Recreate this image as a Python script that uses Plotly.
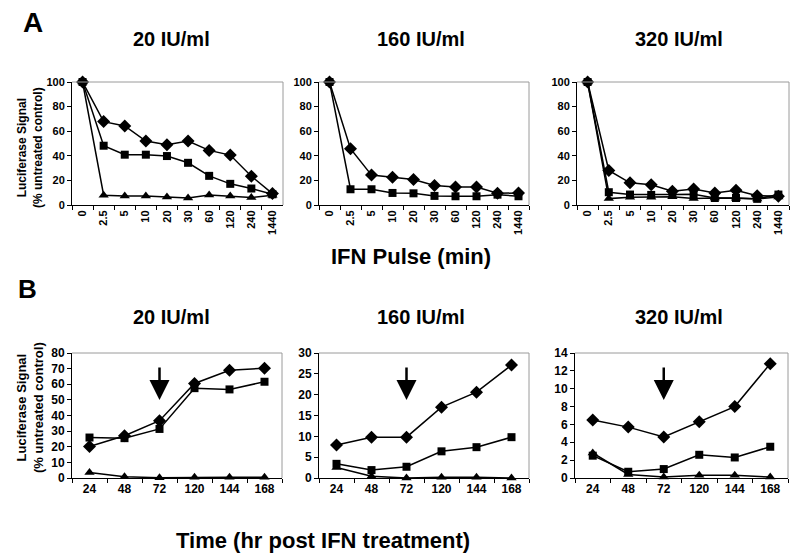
import plotly.graph_objects as go

# page offset: the browser places the figure 8px from the top-left corner
OFF = 8
W, H = 800 - OFF, 558 - OFF

# ---------------- data ----------------
pulse_cats = ["0", "2.5", "5", "10", "20", "30", "60", "120", "240", "1440"]
a20_diamond = [100, 67.8, 64.3, 52, 49, 52, 44.4, 40.6, 23.4, 9.3]
a20_square = [100, 48.2, 40.9, 40.9, 39.8, 34.3, 23.7, 17.2, 13.4, 8.7]
a20_triangle = [100, 8, 7.4, 7.4, 6.5, 5.7, 8.2, 7.4, 6, 8]
a160_diamond = [100, 45.8, 24.3, 22.6, 20.7, 15.8, 14.7, 14.7, 9.5, 9.8]
a160_square = [100, 12.8, 12.8, 9.8, 9.5, 7.4, 7.1, 7.1, 8.4, 7.1]
a320_diamond = [100, 28.1, 18, 16.4, 11.2, 13.1, 9.8, 12, 7.6, 7.1]
a320_square = [100, 10.4, 8.5, 8.2, 8.5, 8.8, 5.7, 5.7, 5, 8.5]
a320_triangle = [100, 5.2, 6.3, 6.3, 6.8, 5.2, 5.7, 5.5, 4.9, 6.6]

time_cats = ["24", "48", "72", "120", "144", "168"]
b20_diamond = [20.2, 27, 36.7, 60.5, 69, 70.3]
b20_square = [25.9, 25.5, 31.4, 57.5, 56.7, 61.6]
b20_triangle = [3.5, 0.8, 0.2, 0.5, 0.5, 0.5]
b160_diamond = [7.9, 9.8, 9.8, 17, 20.6, 27.1]
b160_square = [3.4, 1.9, 2.7, 6.4, 7.4, 9.8]
b160_triangle = [2.5, 0.4, 0, 0.2, 0.2, 0]
b320_diamond = [6.5, 5.7, 4.6, 6.3, 8, 12.8]
b320_square = [2.5, 0.7, 1.0, 2.6, 2.3, 3.5]
b320_triangle = [2.8, 0.4, 0.1, 0.3, 0.3, 0.1]

dose_titles = ["20 IU/ml", "160 IU/ml", "320 IU/ml"]
arrow_cat = "72"

# ---------------- layout helpers ----------------
def px_x(p):
    return (p - OFF) / W

def px_y(p):
    return 1 - (p - OFF) / H

A_x = [(72, 283), (319, 529), (577, 789)]
A_y = (82, 205)
B_x = [(72, 282), (319, 529), (575, 788)]
B_y = (353, 478)

FONT = "Arial, Liberation Sans, Helvetica, sans-serif"
NARROW = "Liberation Sans Narrow, Arial Narrow, Arial, Liberation Sans"

fig = go.Figure()

marker_specs = {
    "diamond": dict(symbol="diamond", size=10),
    "square": dict(symbol="square", size=8),
    "triangle": dict(symbol="triangle-up", size=9),
}

def add_series(xcats, yvals, kind, ax_idx):
    sfx = "" if ax_idx == 1 else str(ax_idx)
    fig.add_trace(go.Scatter(
        x=xcats, y=yvals, mode="lines+markers",
        line=dict(color="black", width=1.5),
        marker=dict(color="black", **marker_specs[kind]),
        xaxis="x" + sfx, yaxis="y" + sfx, showlegend=False, cliponaxis=False))

panelA = [
    [(a20_diamond, "diamond"), (a20_square, "square"), (a20_triangle, "triangle")],
    [(a160_diamond, "diamond"), (a160_square, "square")],
    [(a320_triangle, "triangle"), (a320_square, "square"), (a320_diamond, "diamond")],
]
panelB = [
    [(b20_diamond, "diamond"), (b20_square, "square"), (b20_triangle, "triangle")],
    [(b160_diamond, "diamond"), (b160_square, "square"), (b160_triangle, "triangle")],
    [(b320_diamond, "diamond"), (b320_square, "square"), (b320_triangle, "triangle")],
]

for i, series in enumerate(panelA):
    for vals, kind in series:
        add_series(pulse_cats, vals, kind, i + 1)
for i, series in enumerate(panelB):
    for vals, kind in series:
        add_series(time_cats, vals, kind, i + 4)

layout = dict(
    width=W, height=H, margin=dict(l=0, r=0, t=0, b=0, autoexpand=False),
    paper_bgcolor="white", plot_bgcolor="white",
    font=dict(family=FONT, color="black"),
    showlegend=False,
)

def axis_common():
    return dict(showgrid=False, zeroline=False, showline=True, linecolor="black",
                linewidth=1, ticks="outside", ticklen=4, tickcolor="black",
                fixedrange=True, automargin=False)

B_ranges = [(80, 10), (30, 5), (14, 2)]
for i in range(3):
    n = i + 1
    sfx = "" if n == 1 else str(n)
    layout["xaxis" + sfx] = dict(
        axis_common(), domain=[px_x(A_x[i][0]), px_x(A_x[i][1])],
        anchor="y" + sfx, type="category", tickson="boundaries",
        tickangle=-90,
        tickfont=dict(size=11, family=NARROW, color="black", weight="bold"),
        range=[-0.5, 9.5])
    layout["yaxis" + sfx] = dict(
        axis_common(), domain=[px_y(A_y[1]), px_y(A_y[0])],
        anchor="x" + sfx, range=[0, 100], dtick=20,
        tickfont=dict(size=11, family=NARROW, color="black", weight="bold"))
for i in range(3):
    n = i + 4
    sfx = str(n)
    layout["xaxis" + sfx] = dict(
        axis_common(), domain=[px_x(B_x[i][0]), px_x(B_x[i][1])],
        anchor="y" + sfx, type="category", tickson="boundaries",
        tickfont=dict(size=12, color="black", weight="bold"), range=[-0.5, 5.5])
    layout["yaxis" + sfx] = dict(
        axis_common(), domain=[px_y(B_y[1]), px_y(B_y[0])],
        anchor="x" + sfx, range=[0, B_ranges[i][0]], dtick=B_ranges[i][1],
        tickfont=dict(size=12, color="black", weight="bold"))

shapes = []
for n in range(1, 7):
    sfx = "" if n == 1 else str(n)
    xr, yr = "x" + sfx + " domain", "y" + sfx + " domain"
    shapes.append(dict(type="line", xref=xr, yref=yr, x0=0, x1=1, y0=1, y1=1,
                       line=dict(color="#9a9a9a", width=1)))
    shapes.append(dict(type="line", xref=xr, yref=yr, x0=1, x1=1, y0=0, y1=1,
                       line=dict(color="#9a9a9a", width=1)))
layout["shapes"] = shapes

ann = []
bold = lambda s: "<b>" + s + "</b>"

def label(text, cx, cy, size, family=FONT, angle=0):
    ann.append(dict(text=bold(text), x=px_x(cx), y=px_y(cy), xref="paper", yref="paper",
                    xanchor="center", yanchor="middle", showarrow=False, textangle=angle,
                    font=dict(size=size, family=family, color="black")))

label("A", 33, 23, 28)
label("B", 27, 289, 26)
for cx, t in zip([171, 421, 679], dose_titles):
    label(t, cx, 39, 20)
    label(t, cx, 317, 20)
label("IFN Pulse (min)", 411, 257, 22)
label("Time (hr post IFN treatment)", 323, 540, 22, NARROW)
ann.append(dict(text=bold("Luciferase Signal<br>(% untreated control)"),
                x=px_x(30), y=px_y(148), xref="paper", yref="paper", showarrow=False,
                xanchor="center", yanchor="middle", textangle=-90,
                font=dict(size=12, family=NARROW, color="black")))
ann.append(dict(text=bold("Luciferase Signal<br>(% untreated control)"),
                x=px_x(30), y=px_y(408), xref="paper", yref="paper", showarrow=False,
                xanchor="center", yanchor="middle", textangle=-90,
                font=dict(size=13, family=FONT, color="black")))

# arrows at 72 h (category axes take the category index)
arrow_idx = time_cats.index(arrow_cat)
for n in (4, 5, 6):
    tip = 400
    ann.append(dict(x=arrow_idx, xref="x" + str(n),
                    y=(B_y[1] - tip) / (B_y[1] - B_y[0]), yref="y" + str(n) + " domain",
                    ax=0, ay=-34, showarrow=True, arrowhead=2, arrowsize=1.6,
                    arrowwidth=2.5, arrowcolor="black", text="",
                    font=dict(size=1)))
layout["annotations"] = ann

fig.update_layout(**layout)
fig.write_html("out.html")
